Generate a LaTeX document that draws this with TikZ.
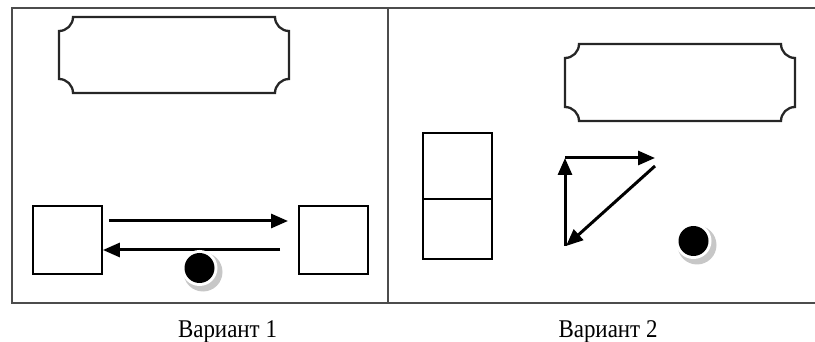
\documentclass[tikz,border=0pt]{standalone}
\usepackage{fontspec}
\setmainfont{Liberation Serif}
\usetikzlibrary{arrows.meta}
% plaque with cut corners: x1 y1 x2 y2 radius
\newcommand{\plaque}[5]{%
\draw[plaquedecorate] (#1+#5,#2) -- (#3-#5,#2)
  arc[start angle=180,end angle=90,radius=#5]
  -- (#3,#4-#5) arc[start angle=270,end angle=180,radius=#5]
  -- (#1+#5,#4) arc[start angle=0,end angle=-90,radius=#5]
  -- (#1,#2+#5) arc[start angle=90,end angle=0,radius=#5] -- cycle;}
\begin{document}
\begin{tikzpicture}
[x=1pt,y=-1pt,
  framedecorate/.style={draw=black!70,line width=1.6pt},
  plaquedecorate/.style={draw=black!85,line width=2.3pt},
  boxdecorate/.style={shape=rectangle,draw,line width=1.8pt,inner sep=0pt},
  arrowdecorate/.style={-{Triangle[length=17pt,width=14pt]},line width=3pt},
  labeldecorate/.style={font=\fontsize{25.5}{30}\selectfont,xscale=0.9,inner sep=0pt,anchor=base}]
\useasboundingbox (0,0) rectangle (815,342);
%%% frame
\draw[framedecorate] (815,8) -- (12,8) -- (12,303) -- (815,303);
\draw[framedecorate] (388,8) -- (388,303);
%
%%% variant 1
\plaque{59}{17}{289}{93}{14}
% nodes or vertices
\node (sqa) at (67.5,240) [boxdecorate,minimum width=69pt,minimum height=68pt] {};
\node (sqb) at (333.5,240) [boxdecorate,minimum width=69pt,minimum height=68pt] {};
\coordinate (p1) at (109,221);
\coordinate (p2) at (288,221);
\coordinate (p3) at (280,250);
\coordinate (p4) at (sqa.east |- p3);
% edges or lines
\path
(p1) edge[arrowdecorate] (p2)
(p3) edge[arrowdecorate] (p4);
% ball
\fill[black!22] (203,272) circle[radius=19.5];
\fill[white] (199.5,268) circle[radius=18];
\fill[black] (199.5,268) circle[radius=15] node (ball1) {};
%
%%% variant 2
\plaque{565}{44}{795}{121}{14}
% nodes or vertices
\node (rta) at (457.5,166) [boxdecorate,minimum width=69pt,minimum height=66pt] {};
\node (rtb) at (457.5,229) [boxdecorate,minimum width=69pt,minimum height=60pt] {};
\coordinate (q1) at (565,158);
\coordinate (q2) at (655,158);
\coordinate (q3) at (565,246);
\coordinate (q4) at (655,166);
\coordinate (q5) at (566,246);
% edges or lines
\path
(q1) edge[arrowdecorate] (q2)
(q3) edge[arrowdecorate] (q1)
(q4) edge[arrowdecorate] (q5);
% ball
\fill[black!22] (697,245) circle[radius=19.5];
\fill[white] (693.5,241) circle[radius=18];
\fill[black] (693.5,241) circle[radius=15] node (ball2) {};
%
%%% labels
\node (lab1) at (227.5,337) [labeldecorate] {Вариант 1};
\node (lab2) at (608,337) [labeldecorate] {Вариант 2};
\end{tikzpicture}
\end{document}
